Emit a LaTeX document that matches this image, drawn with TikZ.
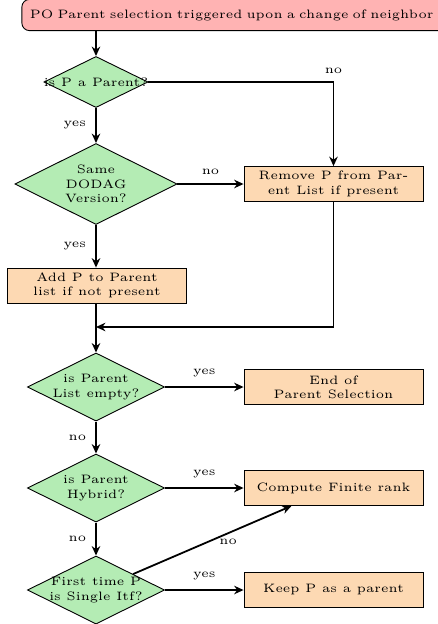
\documentclass[tikz,border=0pt]{standalone}
\usetikzlibrary{shapes.geometric, arrows.meta, calc}
\definecolor{startfill}{RGB}{255,179,179}
\definecolor{decfill}{RGB}{180,236,180}
\definecolor{procfill}{RGB}{253,217,179}
\newcommand{\chartfont}{\fontsize{5.45}{6.4}\selectfont}
\begin{document}
\begin{tikzpicture}[x=0.4464pt, y=-0.4464pt, font=\chartfont,
  startbox/.style={draw, fill=startfill, rounded corners=3.5pt,
    minimum height=14pt, text width=184pt, align=left,
    inner xsep=3.6pt, inner ysep=0pt},
  decision/.style={draw, fill=decfill, diamond, inner sep=0pt,
    label={[align=center, inner sep=0pt]center:{#1}}},
  procbox/.style={draw, fill=procfill, rectangle, minimum width=79.9pt,
    minimum height=15.6pt, align=center, inner sep=0pt},
  arrow/.style={thick, -{Stealth[length=4.2pt,width=3.8pt]}},
  edgelabel/.style={font=\chartfont, inner sep=2pt}]

  \useasboundingbox (0,0) rectangle (438,624);

  % start node
  \node[startbox] (start) at (236,15) 
    {PO Parent selection triggered upon a change of neighbor};

  % decisions
  \node[decision={is P a Parent?}, minimum width=46.4pt, minimum height=22.8pt] (d1) at (96,82) {};
  \node[decision={Same\\DODAG\\Version?}, minimum width=72.3pt, minimum height=36.2pt] (d2) at (96,184) {};
  \node[decision={is Parent\\List empty?}, minimum width=61.2pt, minimum height=30.4pt] (d3) at (96,387) {};
  \node[decision={is Parent\\Hybrid?}, minimum width=61.2pt, minimum height=30.4pt] (d4) at (96,488) {};
  \node[decision={First time P\\is Single Itf?}, minimum width=61.2pt, minimum height=30.4pt] (d5) at (96,590) {};

  % processes
  \node[procbox] (rem) at (333.5,184) {Remove P from Par-\\ent List if present};
  \node[procbox] (add) at (97,285.5) {Add P to Parent\\list if not present};
  \node[procbox] (endb) at (333.5,387) {End of\\Parent Selection};
  \node[procbox] (comp) at (333.5,488) {Compute Finite rank};
  \node[procbox] (keep) at (333.5,590) {Keep P as a parent};

  \coordinate (join) at (96,327);
  \coordinate (comphit) at ($(comp.south)+(-42,0)$);

  % connectors
  \draw[arrow] (d1.north |- start.south) -- (d1.north);
  \draw[arrow] (d1.east) -| node[edgelabel, pos=0.5, above=1.5pt] {no} (rem.north);
  \draw[arrow] (d1.south) -- node[edgelabel, left=2pt] {yes} (d2.north);
  \draw[arrow] (d2.east) -- node[edgelabel, above=2pt] {no} (rem.west);
  \draw[arrow] (d2.south) -- node[edgelabel, left=2pt] {yes} (add.north -| d2.south);
  \draw[thick] (add.south -| d3.north) -- (join);
  \draw[arrow] (join) -- (d3.north);
  \draw[arrow] (rem.south) |- (join);
  \draw[arrow] (d3.east) -- node[edgelabel, above=2pt] {yes} (endb.west);
  \draw[arrow] (d3.south) -- node[edgelabel, left=2pt] {no} (d4.north);
  \draw[arrow] (d4.east) -- node[edgelabel, above=2pt] {yes} (comp.west);
  \draw[arrow] (d4.south) -- node[edgelabel, left=2pt] {no} (d5.north);
  \draw[arrow] (d5) -- node[edgelabel, pos=0.6, below=0pt] {no} (comphit);
  \draw[arrow] (d5.east) -- node[edgelabel, above=2pt] {yes} (keep.west);
\end{tikzpicture}
\end{document}
